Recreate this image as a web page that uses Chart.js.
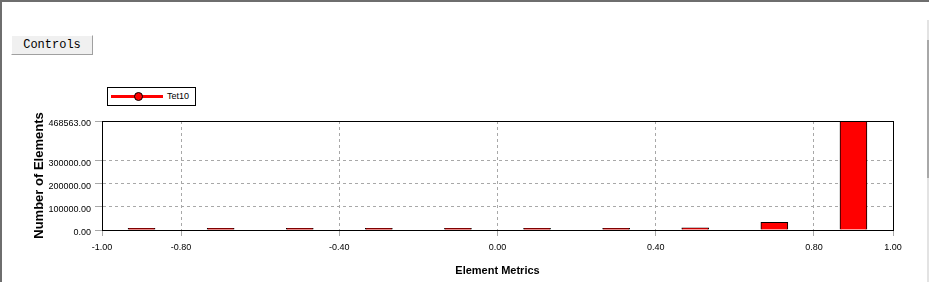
<!DOCTYPE html>
<html>
<head>
<meta charset="utf-8">
<script src="https://cdn.jsdelivr.net/npm/chart.js@4/dist/chart.umd.min.js"></script>
<style>
  html, body { margin: 0; padding: 0; background: #fff; }
  #wrap { position: relative; width: 929px; height: 282px; overflow: hidden; }
  #chart { position: absolute; left: 0; top: 0; }
  .edge { position: absolute; background: #6e6e6e; }
  #btn {
    position: absolute; left: 11px; top: 35px; width: 80px; height: 18px;
    background: #f0f0f0; border-top: 1px solid #fff; border-left: 1px solid #fff;
    border-right: 1px solid #a0a0a0; border-bottom: 1px solid #a0a0a0;
    font: 12px "Liberation Mono", monospace; line-height: 18px; text-align: center; color: #000;
  }
  #legend {
    position: absolute; left: 107px; top: 87px; width: 87px; height: 17px;
    border: 1px solid #000; background: #fff;
  }
  #legend .ln { position: absolute; left: 3px; top: 7px; width: 52px; height: 3px; background: #f00; }
  #legend .dot {
    position: absolute; left: 26px; top: 4px; width: 7px; height: 7px; border-radius: 50%;
    background: #f00; border: 1px solid #000;
  }
  #legend .txt { position: absolute; left: 59px; top: 2px; font: 9px "Liberation Sans", Arial, sans-serif; line-height: 13px; color: #000; }
</style>
</head>
<body>
<div id="wrap">
  <canvas id="chart" width="929" height="282"></canvas>
  <div class="edge" style="left:0;top:0;width:929px;height:2px;"></div>
  <div class="edge" style="left:0;top:0;width:2px;height:282px;"></div>
  <div style="position:absolute;left:927px;top:20px;width:2px;height:262px;background:#e3e3e3;"></div>
  <div style="position:absolute;left:927px;top:40px;width:2px;height:138px;background:#a8a8a8;"></div>
  <div id="btn">Controls</div>
  <div id="legend"><div class="ln"></div><div class="dot"></div><span class="txt" id="legendText"></span></div>
</div>
<script>
// bin centres and element counts
const binCenters = [-0.9, -0.7, -0.5, -0.3, -0.1, 0.1, 0.3, 0.5, 0.7, 0.9];
const counts = [900, 1000, 1100, 1200, 1300, 1500, 1800, 9000, 33000, 468563];
const seriesName = 'Tet10';
const xTicks = [-1, -0.8, -0.4, 0, 0.4, 0.8, 1];
const yTicks = [0, 100000, 200000, 300000, 468563];
const yMax = 468563;

const tickFont = { family: '"Liberation Sans", Arial, sans-serif', size: 9 };
const gridGray = '#a8a8a8';

document.getElementById('legendText').textContent = seriesName;

// black frame around the plot area
const frame = {
  id: 'frame',
  afterDraw(chart) {
    const a = chart.chartArea, c = chart.ctx;
    c.save();
    c.strokeStyle = '#000';
    c.lineWidth = 1;
    c.strokeRect(Math.round(a.left) + 0.5, Math.round(a.top) + 0.5,
      Math.round(a.right - a.left), Math.round(a.bottom - a.top));
    c.restore();
  }
};

new Chart(document.getElementById('chart').getContext('2d'), {
  type: 'bar',
  data: {
    datasets: [{
      label: seriesName,
      data: binCenters.map((x, i) => ({ x: x, y: counts[i] })),
      backgroundColor: '#ff0000',
      borderColor: '#000',
      borderWidth: 1,
      barThickness: 27,
      minBarLength: 1.6
    }]
  },
  options: {
    responsive: false,
    animation: false,
    devicePixelRatio: 1,
    layout: { padding: { left: 0, top: 121, right: 36, bottom: 0 } },
    plugins: { legend: { display: false }, tooltip: { enabled: false } },
    scales: {
      x: {
        type: 'linear', min: -1, max: 1, offset: false,
        afterBuildTicks: s => { s.ticks = xTicks.map(v => ({ value: v })); },
        afterFit: s => { s.height = 52; },
        ticks: { callback: v => v.toFixed(2), font: tickFont, color: '#000', padding: 6, autoSkip: false, maxRotation: 0 },
        grid: { offset: false, color: gridGray, tickColor: gridGray, tickLength: 6 },
        border: { color: '#000', dash: [3, 3] },
        title: { display: true, text: 'Element Metrics', color: '#000',
          font: { family: '"Liberation Sans", Arial, sans-serif', size: 11, weight: 'bold' }, padding: { top: 0, bottom: 4 } }
      },
      y: {
        min: 0, max: yMax,
        afterBuildTicks: s => { s.ticks = yTicks.map(v => ({ value: v })); },
        afterFit: s => { s.width = 102; },
        ticks: { callback: v => v.toFixed(2), font: tickFont, color: '#000', padding: 4, autoSkip: false, labelOffset: 3 },
        grid: { color: gridGray, tickColor: gridGray, tickLength: 7 },
        border: { color: '#000', dash: [3, 3] },
        title: { display: true, text: 'Number of Elements', color: '#000',
          font: { family: '"Liberation Sans", Arial, sans-serif', size: 13, weight: 'bold' }, padding: { top: 32, bottom: 0 } }
      }
    }
  },
  plugins: [frame]
});
</script>
</body>
</html>
